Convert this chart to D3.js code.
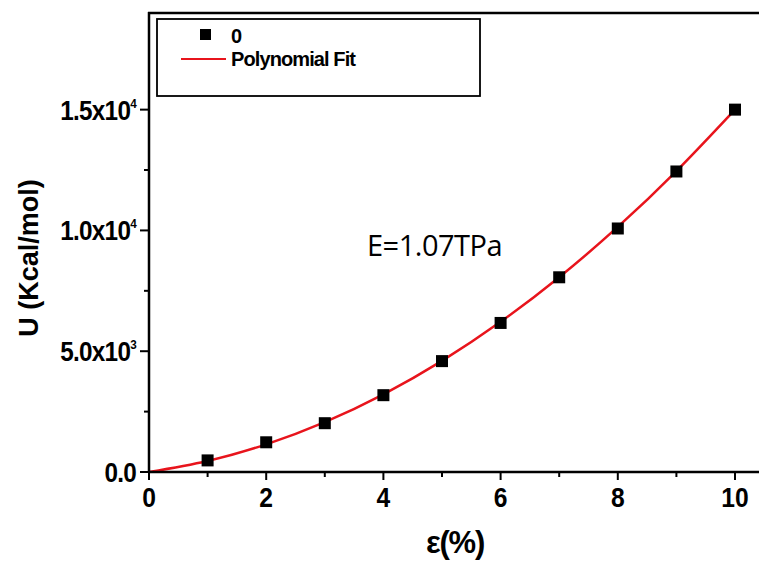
<!DOCTYPE html>
<html>
  <head>
    <meta charset="UTF-8">
    <title>Strain energy</title>
    <script src="https://d3js.org/d3.v7.min.js"></script>
    <style>
      body { margin: 0; background: #fff; }
      text { font-family: "Liberation Sans", Arial, sans-serif; }
    </style>
  </head>
  <body>
    <svg id="chart" width="759" height="561"></svg>
    <script>
      // measured points
      const strain = [1, 2, 3, 4, 5, 6, 7, 8, 9, 10];
      const energy = [480, 1230, 2020, 3180, 4590, 6170, 8060, 10080, 12440, 15000];
      // polynomial fit
      const fitX = [0, 1, 2, 3, 4, 5, 6, 7, 8, 9, 10];
      const fitY = [0, 456, 1144, 2064, 3216, 4600, 6216, 8064, 10144, 12456, 15000];
      const xTicks = [0, 2, 4, 6, 8, 10];
      const xMinor = [1, 3, 5, 7, 9];
      const yTicks = [0, 5000, 10000, 15000];
      const yTickText = [["0.0", ""], ["5.0x10", "3"], ["1.0x10", "4"], ["1.5x10", "4"]];
      const yMinor = [2500, 7500, 12500];

      const svg = d3.select("#chart");
      const x = d3.scaleLinear().domain([0, 10]).range([149, 735]);
      const y = d3.scaleLinear().domain([0, 19000]).range([472, 13]);

      // fit curve
      svg.append("path")
        .datum(fitX.map((v, i) => [v, fitY[i]]))
        .attr("fill", "none")
        .attr("stroke", "#e8141c")
        .attr("stroke-width", 2.5)
        .attr("d", d3.line().x(d => x(d[0])).y(d => y(d[1])).curve(d3.curveNatural));

      // points
      svg.append("g").selectAll("rect")
        .data(strain.map((v, i) => [v, energy[i]]))
        .join("rect")
        .attr("x", d => x(d[0]) - 6)
        .attr("y", d => y(d[1]) - 6)
        .attr("width", 12)
        .attr("height", 12)
        .attr("fill", "#000");

      // axes
      const xAxis = svg.append("g").attr("transform", "translate(0,472)");
      xAxis.append("line").attr("x1", 148).attr("x2", 759).attr("stroke", "#000").attr("stroke-width", 2.5);
      xAxis.selectAll(".maj").data(xTicks).join("line")
        .attr("x1", d => x(d)).attr("x2", d => x(d)).attr("y1", 0).attr("y2", 8)
        .attr("stroke", "#000").attr("stroke-width", 2);
      xAxis.selectAll(".min").data(xMinor).join("line")
        .attr("x1", d => x(d)).attr("x2", d => x(d)).attr("y1", 0).attr("y2", 5)
        .attr("stroke", "#000").attr("stroke-width", 2);
      xAxis.selectAll("text").data(xTicks).join("text")
        .attr("transform", d => `translate(${x(d)},35) scale(0.88,1)`)
        .attr("text-anchor", "middle")
        .attr("font-size", 28).attr("font-weight", "bold")
        .text(d => d);

      const yAxis = svg.append("g").attr("transform", "translate(149,0)");
      yAxis.append("line").attr("y1", 12).attr("y2", 473).attr("stroke", "#000").attr("stroke-width", 2.5);
      yAxis.selectAll(".maj").data(yTicks).join("line")
        .attr("x1", -9).attr("x2", 0).attr("y1", d => y(d)).attr("y2", d => y(d))
        .attr("stroke", "#000").attr("stroke-width", 2);
      yAxis.selectAll(".min").data(yMinor).join("line")
        .attr("x1", -5).attr("x2", 0).attr("y1", d => y(d)).attr("y2", d => y(d))
        .attr("stroke", "#000").attr("stroke-width", 2);
      const yl = yAxis.selectAll("text").data(yTicks).join("text")
        .attr("transform", d => `translate(-13,${y(d) + 10}) scale(0.9,1)`)
        .attr("text-anchor", "end")
        .attr("font-size", 27).attr("font-weight", "bold")
        .attr("letter-spacing", -0.8);
      yl.append("tspan").text((d, i) => yTickText[i][0]);
      yl.append("tspan").attr("dy", -12).attr("font-size", 13).text((d, i) => yTickText[i][1]);

      // top frame line
      svg.append("line").attr("x1", 148).attr("x2", 759).attr("y1", 13).attr("y2", 13)
        .attr("stroke", "#000").attr("stroke-width", 2.5);

      // axis titles
      svg.append("text")
        .attr("transform", "translate(38,258) rotate(-90)")
        .attr("text-anchor", "middle")
        .attr("font-size", 27).attr("font-weight", "bold")
        .text("U (Kcal/mol)");
      svg.append("text")
        .attr("x", 455).attr("y", 553)
        .attr("text-anchor", "middle")
        .attr("font-size", 31).attr("font-weight", "bold")
        .attr("letter-spacing", -1.2)
        .text("ε(%)");

      svg.append("text")
        .attr("x", 367).attr("y", 256)
        .attr("font-size", 29)
        .style("font-family", "'Open Sans', sans-serif")
        .attr("letter-spacing", -0.5)
        .text("E=1.07TPa");

      // legend
      const lg = svg.append("g");
      lg.append("rect").attr("x", 157).attr("y", 19).attr("width", 323).attr("height", 77)
        .attr("fill", "#fff").attr("stroke", "#000").attr("stroke-width", 1.8);
      lg.append("rect").attr("x", 200).attr("y", 29).attr("width", 11).attr("height", 11).attr("fill", "#000");
      lg.append("text").attr("x", 231).attr("y", 43).attr("font-size", 20).attr("font-weight", "bold").text("0");
      lg.append("line").attr("x1", 181).attr("x2", 226).attr("y1", 59).attr("y2", 59)
        .attr("stroke", "#e8141c").attr("stroke-width", 2);
      lg.append("text").attr("x", 231).attr("y", 66).attr("font-size", 20).attr("font-weight", "bold")
        .attr("letter-spacing", -0.9).text("Polynomial Fit");
    </script>
  </body>
</html>
